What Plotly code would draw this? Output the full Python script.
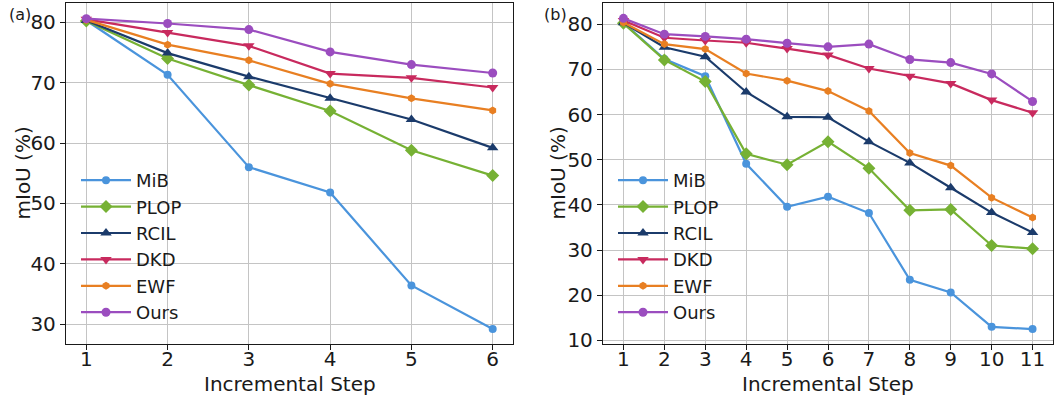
import plotly.graph_objects as go

methods = ["MiB", "PLOP", "RCIL", "DKD", "EWF", "Ours"]
colors = ["#4a94dc", "#76b134", "#1b3b6b", "#c82a5e", "#e87f22", "#9b4dbf"]
symbols = ["circle", "diamond", "triangle-up", "triangle-down", "hexagon", "circle"]
sizes = [8, 10, 10, 10, 8, 9]

steps_a = [1, 2, 3, 4, 5, 6]
a_mib = [80.3, 71.3, 56.0, 51.8, 36.4, 29.2]
a_plop = [80.2, 74.0, 69.6, 65.3, 58.8, 54.6]
a_rcil = [80.3, 74.9, 71.0, 67.4, 63.9, 59.2]
a_dkd = [80.5, 78.3, 76.1, 71.5, 70.8, 69.2]
a_ewf = [80.4, 76.3, 73.7, 69.8, 67.4, 65.4]
a_ours = [80.6, 79.8, 78.8, 75.1, 73.0, 71.6]

steps_b = [1, 2, 3, 4, 5, 6, 7, 8, 9, 10, 11]
b_mib = [80.3, 72.3, 68.5, 49.1, 39.6, 41.8, 38.2, 23.4, 20.6, 13.0, 12.5]
b_plop = [80.2, 72.1, 67.3, 51.3, 48.9, 54.0, 48.1, 38.8, 39.0, 31.0, 30.3]
b_rcil = [80.3, 74.9, 72.8, 65.0, 59.5, 59.4, 54.0, 49.3, 43.8, 38.3, 33.9]
b_dkd = [80.8, 77.0, 76.4, 75.9, 74.6, 73.2, 70.2, 68.5, 66.9, 63.2, 60.4]
b_ewf = [80.4, 75.6, 74.5, 69.1, 67.5, 65.2, 60.8, 51.5, 48.7, 41.6, 37.2]
b_ours = [81.3, 77.8, 77.3, 76.7, 75.8, 75.0, 75.6, 72.2, 71.5, 69.0, 62.9]

series_a = [a_mib, a_plop, a_rcil, a_dkd, a_ewf, a_ours]
series_b = [b_mib, b_plop, b_rcil, b_dkd, b_ewf, b_ours]

yticks_a = [30, 40, 50, 60, 70, 80]
yticks_b = [10, 20, 30, 40, 50, 60, 70, 80]

x_title = "Incremental Step"
y_title = "mIoU (%)"

FONT = "DejaVu Sans"
INK = "#1a1a1a"
fig = go.Figure()

for i, m in enumerate(methods):
    fig.add_trace(go.Scatter(
        x=steps_a, y=series_a[i], name=m, mode="lines+markers",
        line=dict(color=colors[i], width=2.2),
        marker=dict(symbol=symbols[i], size=sizes[i], color=colors[i]),
        xaxis="x", yaxis="y", legend="legend"))
for i, m in enumerate(methods):
    fig.add_trace(go.Scatter(
        x=steps_b, y=series_b[i], name=m, mode="lines+markers",
        line=dict(color=colors[i], width=2.2),
        marker=dict(symbol=symbols[i], size=sizes[i], color=colors[i]),
        xaxis="x2", yaxis="y2", legend="legend2"))

ax_common = dict(
    showgrid=True, gridcolor="#c4c4c4", gridwidth=1,
    showline=True, linecolor=INK, linewidth=1.3, mirror=True,
    ticks="outside", ticklen=5, tickcolor=INK,
    tickfont=dict(family=FONT, size=20, color=INK),
    zeroline=False, automargin=False,
)
title_font = dict(family=FONT, size=20, color=INK)

W, H = 1057, 400
XA = (66, 513)
XB = (603, 1053)
Y_TOP, Y_BOT = 3, 344

fig.update_layout(
    width=W, height=H,
    margin=dict(l=0, r=0, t=0, b=0, autoexpand=False),
    paper_bgcolor="white", plot_bgcolor="white",
    font=dict(family=FONT, color=INK),
    xaxis=dict(domain=[XA[0]/W, XA[1]/W], range=[0.75, 6.25], tickvals=steps_a,
               ticklabelstandoff=-8, anchor="y", **ax_common),
    yaxis=dict(domain=[1-Y_BOT/H, 1-Y_TOP/H], range=[26.7, 83.2], tickvals=yticks_a,
               anchor="x", **ax_common),
    xaxis2=dict(domain=[XB[0]/W, XB[1]/W], range=[0.5, 11.5], tickvals=steps_b,
                ticklabelstandoff=-8, anchor="y2", **ax_common),
    yaxis2=dict(domain=[1-Y_BOT/H, 1-Y_TOP/H], range=[9.2, 84.7], tickvals=yticks_b,
                anchor="x2", **ax_common),
    legend=dict(x=76/W, y=1-162/H, xanchor="left", yanchor="top",
                bgcolor="rgba(0,0,0,0)", font=dict(family=FONT, size=18),
                tracegroupgap=0, itemwidth=50),
    legend2=dict(x=613/W, y=1-162/H, xanchor="left", yanchor="top",
                 bgcolor="rgba(0,0,0,0)", font=dict(family=FONT, size=18),
                 tracegroupgap=0, itemwidth=50),
    annotations=[
        dict(text="(a)", x=7/W, y=1-14/H, xref="paper", yref="paper",
             xanchor="left", yanchor="middle", showarrow=False,
             font=dict(family=FONT, size=16, color=INK)),
        dict(text="(b)", x=542/W, y=1-15/H, xref="paper", yref="paper",
             xanchor="left", yanchor="middle", showarrow=False,
             font=dict(family=FONT, size=16, color=INK)),
        dict(text=x_title, x=sum(XA)/2/W, y=1-384/H, xref="paper", yref="paper",
             xanchor="center", yanchor="middle", showarrow=False, font=title_font),
        dict(text=x_title, x=sum(XB)/2/W, y=1-384/H, xref="paper", yref="paper",
             xanchor="center", yanchor="middle", showarrow=False, font=title_font),
        dict(text=y_title, x=22/W, y=1-(Y_TOP+Y_BOT)/2/H, xref="paper", yref="paper",
             xanchor="center", yanchor="middle", textangle=-90, showarrow=False, font=title_font),
        dict(text=y_title, x=557/W, y=1-(Y_TOP+Y_BOT)/2/H, xref="paper", yref="paper",
             xanchor="center", yanchor="middle", textangle=-90, showarrow=False, font=title_font),
    ],
)

fig.write_html(
    "out.html",
    config={"displayModeBar": False},
    post_script="document.body.style.margin='0px';document.body.style.overflow='hidden';",
)
